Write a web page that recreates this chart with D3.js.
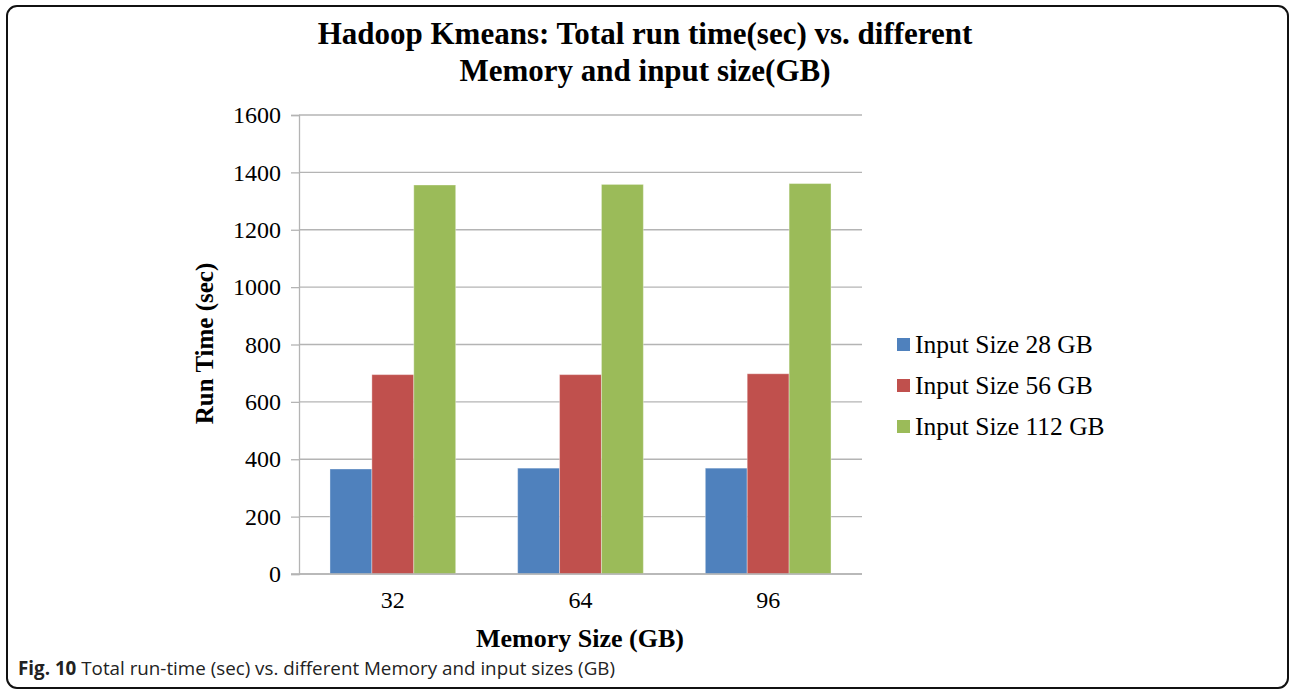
<!DOCTYPE html>
<html>
<head>
<meta charset="utf-8">
<script src="https://cdn.jsdelivr.net/npm/d3@7"></script>
<style>
  html, body { margin: 0; padding: 0; background: #fff; }
  svg { display: block; }
</style>
</head>
<body>
<svg id="chart" width="1291" height="691"></svg>
<script>
const categories = ["32", "64", "96"];
const seriesNames = ["Input Size 28 GB", "Input Size 56 GB", "Input Size 112 GB"];
const size28 = [366, 369, 369];
const size56 = [695, 695, 698];
const size112 = [1356, 1358, 1361];
const yTicks = [0, 200, 400, 600, 800, 1000, 1200, 1400, 1600];
const colors = ["#4F81BD", "#C0504D", "#9BBB59"];

(function () {
const seriesValues = [size28, size56, size112];

const svg = d3.select("#chart");
const serif = "'Liberation Serif', 'Times New Roman', serif";

// Border
svg.append("rect")
  .attr("x", 7).attr("y", 6).attr("width", 1281).attr("height", 682)
  .attr("rx", 10).attr("ry", 10)
  .attr("fill", "none").attr("stroke", "#111").attr("stroke-width", 2);

const pLeft = 299, pRight = 862, pTop = 115, pBottom = 574;

const x = d3.scaleBand().domain(categories).range([pLeft, pRight]).paddingInner(0).paddingOuter(0);
const barW = 41.9;
const groupPad = (x.bandwidth() - barW * 3) / 2;

const y = d3.scaleLinear().domain([0, 1600]).range([pBottom, pTop]);

// Gridlines
svg.append("g").selectAll("line").data(yTicks).join("line")
  .attr("x1", pLeft).attr("x2", pRight)
  .attr("y1", d => y(d)).attr("y2", d => y(d))
  .attr("stroke", "#B4B4B4").attr("stroke-width", 1.3);

// Y axis
const yAxis = d3.axisLeft(y).tickValues(yTicks).tickFormat(d3.format("d")).tickSize(8).tickPadding(10);
const yg = svg.append("g").attr("transform", `translate(${pLeft},0)`).call(yAxis);
yg.select(".domain").attr("stroke", "#B4B4B4").attr("stroke-width", 1.3);
yg.selectAll(".tick line").attr("stroke", "#B4B4B4").attr("stroke-width", 1.3);
yg.selectAll(".tick text")
  .attr("font-family", serif).attr("font-size", 24).attr("fill", "#000");

// Bars
const groups = svg.append("g").selectAll("g").data(categories).join("g")
  .attr("transform", d => `translate(${x(d)},0)`);
groups.selectAll("rect")
  .data((c, ci) => seriesValues.map((vals, si) => ({ si, v: vals[ci] })))
  .join("rect")
  .attr("x", d => groupPad + d.si * barW)
  .attr("width", barW)
  .attr("y", d => y(d.v))
  .attr("height", d => y(0) - y(d.v))
  .attr("fill", d => colors[d.si])
  .attr("stroke", "rgba(255,255,255,0.35)")
  .attr("stroke-width", 1);

// X axis baseline
const xAxis = d3.axisBottom(x).tickSize(0).tickPadding(17);
const xg = svg.append("g").attr("transform", `translate(0,${pBottom})`).call(xAxis);
xg.select(".domain").remove();
xg.append("line").attr("x1", pLeft - 8).attr("x2", pRight).attr("y1", 0).attr("y2", 0)
  .attr("stroke", "#B4B4B4").attr("stroke-width", 1.5);
xg.selectAll(".tick text")
  .attr("font-family", serif).attr("font-size", 24).attr("fill", "#000");

// Title
const title = svg.append("text")
  .attr("x", 645).attr("text-anchor", "middle")
  .attr("font-family", serif).attr("font-weight", "bold").attr("font-size", 31).attr("fill", "#000");
title.append("tspan").attr("x", 645).attr("y", 44).text("Hadoop Kmeans: Total run time(sec) vs. different");
title.append("tspan").attr("x", 645).attr("y", 81).text("Memory and input size(GB)");

// Axis titles
svg.append("text")
  .attr("transform", `translate(213,${(pTop + pBottom) / 2 - 1}) rotate(-90)`)
  .attr("text-anchor", "middle")
  .attr("font-family", serif).attr("font-weight", "bold").attr("font-size", 25).attr("fill", "#000")
  .text("Run Time (sec)");

svg.append("text")
  .attr("x", 580).attr("y", 647).attr("text-anchor", "middle")
  .attr("font-family", serif).attr("font-weight", "bold").attr("font-size", 26).attr("fill", "#000")
  .text("Memory Size (GB)");

// Legend
const legend = svg.append("g");
const ly = [345, 386, 427];
seriesNames.forEach((name, i) => {
  legend.append("rect").attr("x", 897).attr("y", ly[i] - 7).attr("width", 13).attr("height", 13)
    .attr("fill", colors[i]);
  legend.append("text").attr("x", 915).attr("y", ly[i] + 8)
    .attr("font-family", serif).attr("font-size", 25.5).attr("fill", "#000")
    .text(name);
});

// Caption
const cap = svg.append("text").attr("x", 18).attr("y", 675)
  .attr("font-family", "'Open Sans', 'Noto Sans', sans-serif").attr("font-size", 18.8).attr("fill", "#222");
cap.append("tspan").attr("font-weight", "bold").text("Fig. 10");
cap.append("tspan").text(" Total run-time (sec) vs. different Memory and input sizes (GB)");
})();
</script>
</body>
</html>
